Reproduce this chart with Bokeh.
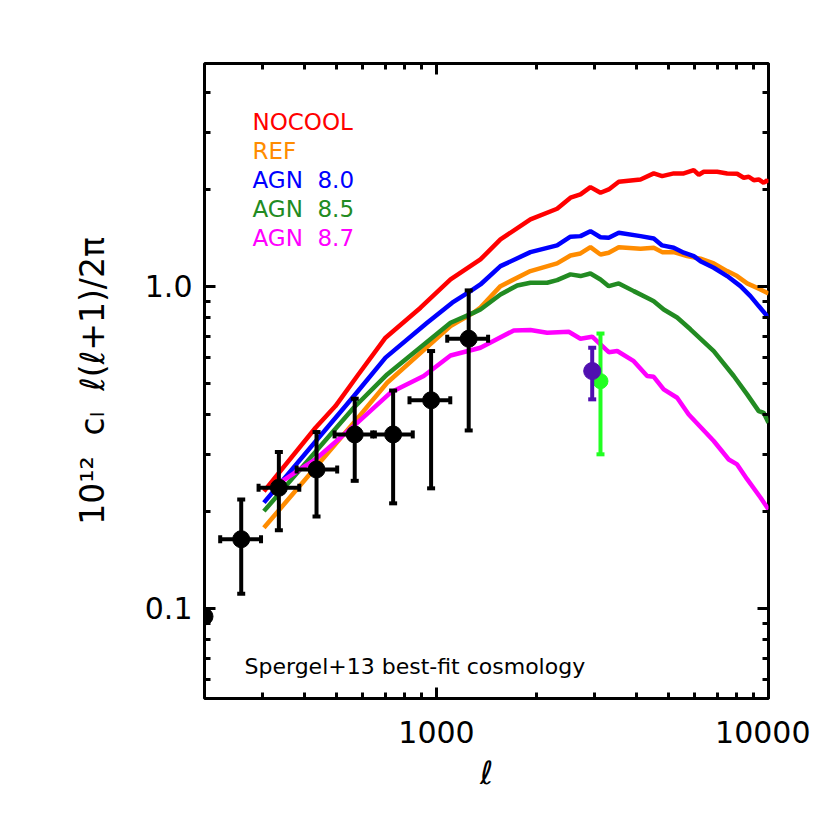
import numpy as np
from bokeh.plotting import figure
from bokeh.models import Range1d, FixedTicker, LogAxis, Label, PrintfTickFormatter, CustomJSTickFormatter, ColumnDataSource
from bokeh.embed import file_html
from bokeh.resources import INLINE

# ---------------- data ----------------
ell_nocool = [302, 432, 496, 577, 702, 895, 1102, 1356, 1558, 1918, 2308, 2532, 2714, 2908, 3118, 3302,
              3540, 4116, 4512, 4782, 5184, 5556, 5954, 6166, 6382, 7006, 7508, 8044, 8422, 8720, 9026,
              9344, 9674, 9906, 10000]
cl_nocool = [0.231, 0.364, 0.425, 0.527, 0.693, 0.859, 1.051, 1.213, 1.400, 1.615, 1.743, 1.886, 1.931,
             2.034, 1.954, 2.001, 2.114, 2.149, 2.244, 2.201, 2.244, 2.244, 2.297, 2.223, 2.271, 2.271,
             2.244, 2.239, 2.176, 2.191, 2.138, 2.149, 2.099, 2.138, 2.099]

ell_ref = [302, 563, 710, 1102, 1295, 1356, 1558, 1918, 2308, 2532, 2714, 2908, 3118, 3302, 3540, 4116,
           4512, 4782, 5184, 5688, 6238, 6840, 7508, 8044, 8622, 9456, 10000]
cl_ref = [0.178, 0.377, 0.502, 0.753, 0.830, 0.860, 1.002, 1.116, 1.179, 1.248, 1.266, 1.324, 1.257,
          1.273, 1.324, 1.309, 1.319, 1.278, 1.278, 1.242, 1.219, 1.179, 1.116, 1.077, 1.022, 0.979, 0.951]

ell_agn80 = [302, 563, 702, 937, 1115, 1265, 1356, 1558, 1918, 2308, 2532, 2714, 2908, 3118, 3302, 3540,
             4116, 4512, 4782, 5184, 5556, 5954, 6238, 6840, 7508, 8232, 8822, 9344, 10000]
cl_agn80 = [0.213, 0.456, 0.601, 0.771, 0.890, 0.967, 1.014, 1.156, 1.278, 1.341, 1.427, 1.433, 1.485,
            1.422, 1.416, 1.468, 1.433, 1.409, 1.341, 1.319, 1.273, 1.242, 1.198, 1.143, 1.077, 1.002,
            0.933, 0.869, 0.800]

ell_agn85 = [302, 563, 710, 1102, 1295, 1356, 1558, 1750, 1918, 2154, 2308, 2532, 2714, 2908, 3118, 3302,
             3540, 3928, 4410, 4512, 4834, 5306, 5818, 6840, 7858, 8622, 9344, 9674, 10000]
cl_agn85 = [0.2005, 0.420, 0.533, 0.771, 0.829, 0.848, 0.944, 1.007, 1.027, 1.027, 1.046, 1.090, 1.077,
            1.097, 1.051, 1.002, 1.022, 0.967, 0.911, 0.900, 0.848, 0.801, 0.736, 0.630, 0.527, 0.462,
            0.410, 0.405, 0.377]

ell_agn87 = [340, 392, 435, 577, 727, 915, 1102, 1295, 1356, 1709, 1918, 2154, 2502, 2714, 2944, 3302,
             3502, 3928, 4310, 4512, 4834, 5306, 5750, 6840, 7590, 8044, 8622, 9456, 10000]
cl_agn87 = [0.247, 0.272, 0.292, 0.377, 0.468, 0.527, 0.610, 0.637, 0.645, 0.730, 0.732, 0.718, 0.723,
            0.688, 0.698, 0.625, 0.630, 0.586, 0.527, 0.524, 0.479, 0.451, 0.400, 0.331, 0.290, 0.280,
            0.252, 0.221, 0.203]

# observed points (black)
ell_obs = [258, 335, 435, 567, 740, 963, 1250]
cl_obs = [0.164, 0.237, 0.270, 0.347, 0.347, 0.443, 0.688]
cl_obs_lo = [0.111, 0.175, 0.193, 0.249, 0.212, 0.236, 0.357]
cl_obs_hi = [0.218, 0.306, 0.353, 0.448, 0.475, 0.630, 0.972]
ell_obs_lo = [223, 291, 379, 493, 640, 829, 1077]
ell_obs_hi = [296, 386, 502, 652, 848, 1100, 1430]
ell_edge = [200]
cl_edge = [0.0944]

# single points
ell_green = [3118]; cl_green = [0.508]; cl_green_lo = [0.301]; cl_green_hi = [0.714]
ell_purple = [2944]; cl_purple = [0.546]; cl_purple_lo = [0.446]; cl_purple_hi = [0.645]

NB = "\u00a0"
series_names = ["NOCOOL", "REF", "AGN" + NB * 2 + "8.0", "AGN" + NB * 2 + "8.5", "AGN" + NB * 2 + "8.7"]
series_colors = ["#ff0000", "#ff8c00", "#0000ff", "#228b22", "#ff00ff"]
series_ell = [ell_nocool, ell_ref, ell_agn80, ell_agn85, ell_agn87]
series_cl = [cl_nocool, cl_ref, cl_agn80, cl_agn85, cl_agn87]

x_ticks = [1000, 10000]
x_minor = [300, 400, 500, 600, 700, 800, 900, 2000, 3000, 4000, 5000, 6000, 7000, 8000, 9000]
y_ticks = [0.1, 1.0]
y_minor = [0.06, 0.07, 0.08, 0.09, 0.2, 0.3, 0.4, 0.5, 0.6, 0.7, 0.8, 0.9, 2, 3, 4]

FONT = "DejaVu Sans"

p = figure(x_axis_type="log", y_axis_type="log",
           x_range=Range1d(200, 10000), y_range=Range1d(0.0525, 4.925),
           frame_width=564, frame_height=635,
           min_border_left=204, min_border_right=42, min_border_top=63, min_border_bottom=112,
           output_backend="svg", toolbar_location=None, tools="")
p.background_fill_color = "white"
p.border_fill_color = "white"
p.xgrid.visible = False
p.ygrid.visible = False
p.outline_line_color = "black"
p.outline_line_width = 3


def style_axis(ax, ticks, minor, show_labels, fmt):
    ax.ticker = FixedTicker(ticks=ticks, minor_ticks=minor)
    ax.axis_line_color = None
    ax.major_tick_in = 11
    ax.major_tick_out = 0
    ax.minor_tick_in = 6
    ax.minor_tick_out = 0
    ax.major_tick_line_width = 3
    ax.minor_tick_line_width = 3
    ax.major_tick_line_color = "black"
    ax.minor_tick_line_color = "black"
    if show_labels:
        ax.formatter = PrintfTickFormatter(format=fmt)
        ax.major_label_text_font = FONT
        ax.major_label_text_font_size = "30px"
        ax.major_label_text_color = "black"
    else:
        ax.formatter = CustomJSTickFormatter(code="return ''")
        ax.major_label_text_font_size = "0px"


style_axis(p.xaxis[0], x_ticks, x_minor, True, "%d")
style_axis(p.yaxis[0], y_ticks, y_minor, True, "%.1f")
p.xaxis[0].major_label_standoff = 22
p.yaxis[0].major_label_standoff = 12
p.xaxis[0].axis_label = "ℓ"
p.xaxis[0].axis_label_text_font = FONT
p.xaxis[0].axis_label_text_font_style = "italic"
p.xaxis[0].axis_label_text_font_size = "32px"
p.xaxis[0].axis_label_text_color = "black"
p.xaxis[0].axis_label_standoff = 8
p.yaxis[0].axis_label = "10¹²" + NB * 2 + "cₗ" + NB * 2 + "ℓ(ℓ+1)/2π"
p.yaxis[0].axis_label_text_font = FONT
p.yaxis[0].axis_label_text_font_style = "normal"
p.yaxis[0].axis_label_text_font_size = "33px"
p.yaxis[0].axis_label_text_color = "black"
p.yaxis[0].axis_label_standoff = 30

top_ax = LogAxis()
style_axis(top_ax, x_ticks, x_minor, False, "")
p.add_layout(top_ax, "above")
right_ax = LogAxis()
style_axis(right_ax, y_ticks, y_minor, False, "")
p.add_layout(right_ax, "right")

# curves
for e, c, col in zip(series_ell, series_cl, series_colors):
    p.line(e, c, line_color=col, line_width=4.5)

# observed black points
src = ColumnDataSource(dict(ell=ell_obs, cl=cl_obs, lo=cl_obs_lo, hi=cl_obs_hi, xlo=ell_obs_lo, xhi=ell_obs_hi))
p.segment(x0="ell", y0="lo", x1="ell", y1="hi", source=src, line_color="black", line_width=4)
p.segment(x0="xlo", y0="cl", x1="xhi", y1="cl", source=src, line_color="black", line_width=4)
for k in ("lo", "hi"):
    p.scatter(x="ell", y=k, source=src, marker="dash", size=8, line_color="black", line_width=4)
for k in ("xlo", "xhi"):
    p.scatter(x=k, y="cl", source=src, marker="dash", angle=np.pi / 2, size=8, line_color="black", line_width=4)
p.scatter(x="ell", y="cl", source=src, size=17, color="black")
p.scatter(ell_edge, cl_edge, size=17, color="black")


def point_with_bar(ell, cl, lo, hi, color, size):
    s = ColumnDataSource(dict(ell=ell, cl=cl, lo=lo, hi=hi))
    p.segment(x0="ell", y0="lo", x1="ell", y1="hi", source=s, line_color=color, line_width=4)
    for k in ("lo", "hi"):
        p.scatter(x="ell", y=k, source=s, marker="dash", size=8, line_color=color, line_width=4)
    p.scatter(x="ell", y="cl", source=s, size=size, color=color)


point_with_bar(ell_green, cl_green, cl_green_lo, cl_green_hi, "#22ff22", 15)
point_with_bar(ell_purple, cl_purple, cl_purple_lo, cl_purple_hi, "#5010b0", 17)

# legend texts
legend_x = 279
legend_y = [3.23, 2.626, 2.134, 1.734, 1.409]
for name, col, ly in zip(series_names, series_colors, legend_y):
    p.add_layout(Label(x=legend_x, y=ly, text=name, text_color=col, text_font=FONT,
                       text_font_size="23px", text_baseline="alphabetic"))

p.add_layout(Label(x=264, y=0.066, text="Spergel+13 best-fit cosmology", text_color="black",
                   text_font=FONT, text_font_size="22px", text_baseline="alphabetic"))

open("out.html", "w").write(file_html(p, INLINE))
